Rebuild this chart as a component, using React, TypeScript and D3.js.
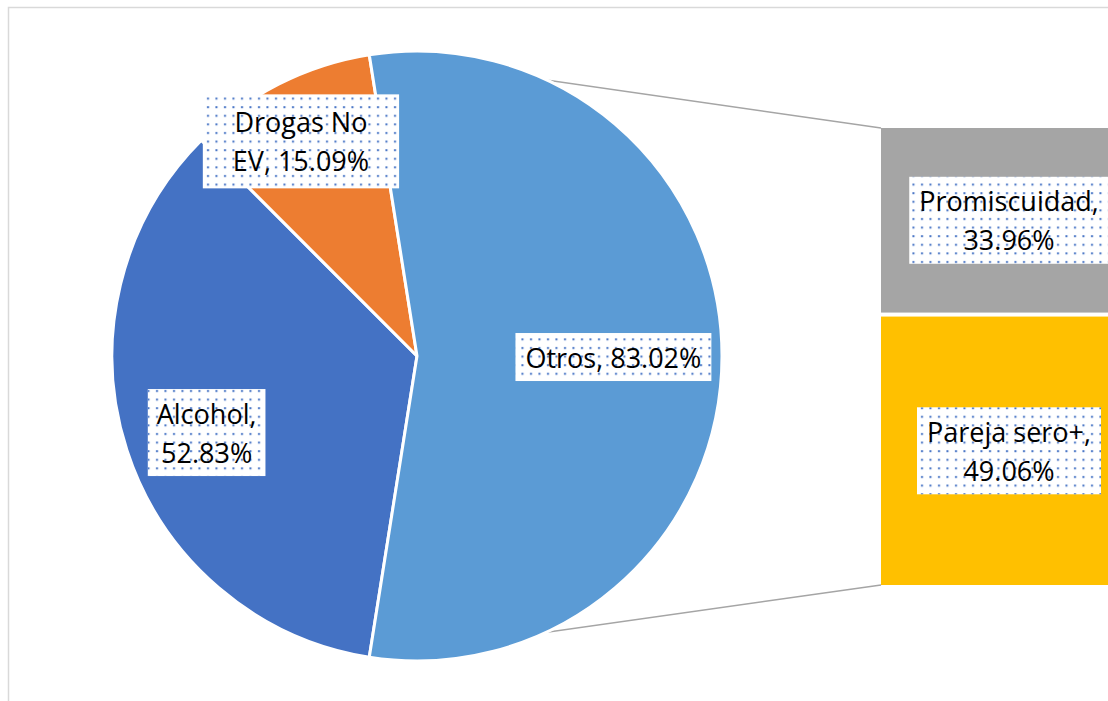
import React from "react";
import * as d3 from "d3";

const pieCategories = ["Alcohol", "Drogas No EV", "Otros"];
const pieValues = [52.83, 15.09, 83.02];
const pieColors = ["#4472C4", "#ED7D31", "#5B9BD5"];
const pieLabelLines = [["Alcohol,", "52.83%"], ["Drogas No", "EV, 15.09%"], ["Otros, 83.02%"]];

const barCategories = ["Promiscuidad", "Pareja sero+"];
const barValues = [33.96, 49.06];
const barColors = ["#A5A5A5", "#FFC000"];
const barLabelLines = [["Promiscuidad,", "33.96%"], ["Pareja sero+,", "49.06%"]];

// label layout (polar placement relative to slice middle)
const pieLabelRadius = [0.734, 0.8, 0.644];
const pieLabelAngleShift = [-2, -1.4, 0.3];
const pieLabelPadX = [9, 30, 10];
const pieLabelPadY = [9, 16, 9];

const W = 1108, H = 701;
const cx = 417, cy = 356, R = 305;
const barX = 881, barW = 256, barTop = 128, barBottom = 585, barGap = 4;
const FONT = "'Open Sans', 'Liberation Sans', Arial, sans-serif";
const FS = 27, LH = 39;

let ctx: CanvasRenderingContext2D | null = null;
function measure(s: string) {
  if (!ctx) ctx = document.createElement("canvas").getContext("2d")!;
  ctx.font = `${FS}px ${FONT}`;
  return ctx.measureText(s).width;
}

function Label({ x, y, lines, padX = 10, padY = 9 }: { x: number; y: number; lines: string[]; padX?: number; padY?: number }) {
  const w = Math.max(...lines.map(measure)) + 2 * padX;
  const h = lines.length * LH + padY;
  const top = y - h / 2;
  const textTop = y - (lines.length * LH) / 2;
  return (
    <g>
      <rect x={x - w / 2} y={top} width={w} height={h} fill="#fff" />
      <rect x={x - w / 2} y={top} width={w} height={h} fill="url(#dots)" />
      {lines.map((l, i) => (
        <text key={i} x={x} y={textTop + LH * i + LH / 2} textAnchor="middle" dominantBaseline="central"
          fontFamily={FONT} fontSize={FS} fill="#000">{l}</text>
      ))}
    </g>
  );
}

export default function App() {
  const total = d3.sum(pieValues);
  const otrosSpan = (pieValues[2] / total) * 2 * Math.PI;
  const start = Math.PI / 2 + otrosSpan / 2;
  const pie = d3.pie<number>().sort(null).value(d => d).startAngle(start).endAngle(start + 2 * Math.PI);
  const arcs = pie(pieValues);
  const arc = d3.arc<d3.PieArcDatum<number>>().innerRadius(0).outerRadius(R);

  const otros = arcs[2];
  const pt = (a: number) => [cx + R * Math.sin(a), cy - R * Math.cos(a)];
  const pTop = pt(otros.startAngle);
  const pBot = pt(otros.endAngle);

  const barSum = d3.sum(barValues);
  const y = d3.scaleLinear().domain([0, barSum]).range([barTop, barBottom + barGap]);
  let acc = 0;
  const bars = barValues.map((v, i) => {
    const y0 = y(acc), y1 = y(acc + v) - barGap;
    acc += v;
    return { y0, y1, i };
  });

  return (
    <svg width={W} height={H} style={{ position: "absolute", left: 0, top: 0 }}>
      <defs>
        <pattern id="dots" width={8.5} height={8.6} patternUnits="userSpaceOnUse">
          <rect x={3} y={3} width={2} height={2} fill="#4472C4" />
        </pattern>
      </defs>
      <rect x={0} y={0} width={W} height={H} fill="#fff" />
      <rect x={8.5} y={7.5} width={W + 20} height={H + 20} fill="none" stroke="#D9D9D9" strokeWidth={1.5} />
      <line x1={pTop[0]} y1={pTop[1]} x2={barX} y2={barTop} stroke="#A5A5A5" strokeWidth={1.5} />
      <line x1={pBot[0]} y1={pBot[1]} x2={barX} y2={barBottom} stroke="#A5A5A5" strokeWidth={1.5} />
      <g transform={`translate(${cx},${cy})`}>
        {arcs.map((a, i) => (
          <path key={pieCategories[i]} d={arc(a)!} fill={pieColors[i]} stroke="#fff" strokeWidth={3} strokeLinejoin="round" />
        ))}
      </g>
      {bars.map(b => (
        <rect key={barCategories[b.i]} x={barX} y={b.y0} width={barW} height={b.y1 - b.y0} fill={barColors[b.i]} />
      ))}
      {arcs.map((a, i) => {
        const m = (a.startAngle + a.endAngle) / 2 + (pieLabelAngleShift[i] * Math.PI) / 180;
        const r = R * pieLabelRadius[i];
        return <Label key={i} x={cx + r * Math.sin(m)} y={cy - r * Math.cos(m)} lines={pieLabelLines[i]}
          padX={pieLabelPadX[i]} padY={pieLabelPadY[i]} />;
      })}
      {bars.map(b => (
        <Label key={"b" + b.i} x={barX + barW / 2} y={(b.y0 + b.y1) / 2} lines={barLabelLines[b.i]} />
      ))}
    </svg>
  );
}
